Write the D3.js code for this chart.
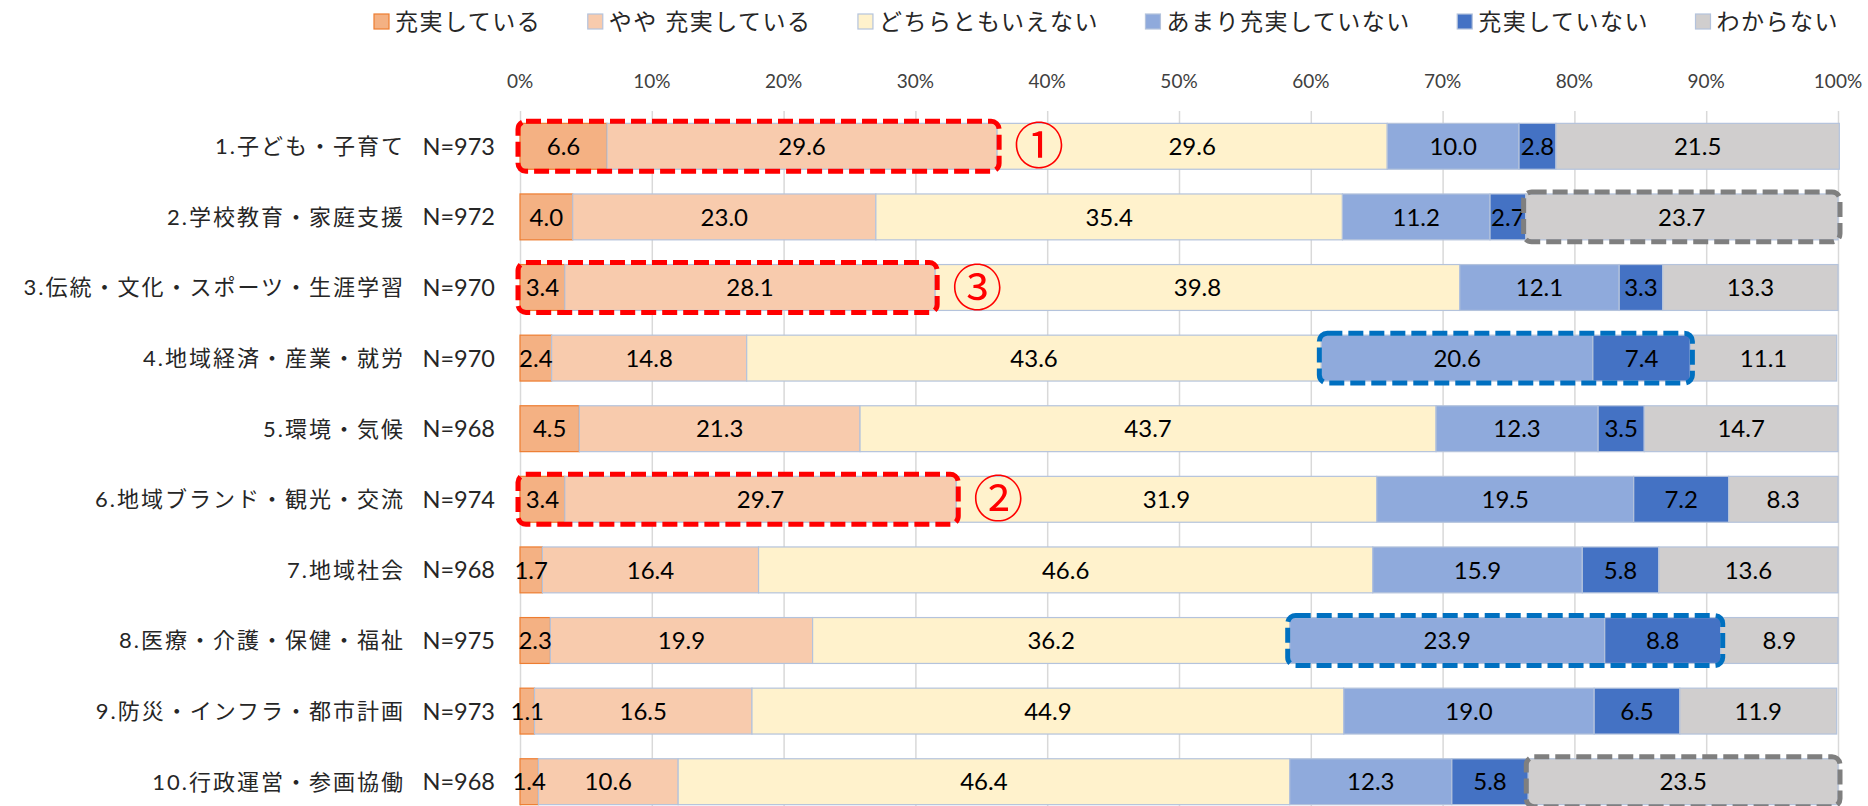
<!DOCTYPE html>
<meta charset="utf-8">
<style>
body { margin: 0; background: #fff; }
svg text { font-family: Lato, "Noto Sans CJK JP", sans-serif; }
.grid line { stroke: #d9d9d9; stroke-width: 1.5px; }
.grid path { display: none; }
.seg { stroke: #b4c3dc; stroke-width: 1.2px; }
</style>
<svg width="1868" height="806"></svg>
<script src="https://d3js.org/d3.v7.min.js"></script>
<script>
// 項目
var categories = ["1.子ども・子育て", "2.学校教育・家庭支援", "3.伝統・文化・スポーツ・生涯学習",
    "4.地域経済・産業・就労", "5.環境・気候", "6.地域ブランド・観光・交流", "7.地域社会",
    "8.医療・介護・保健・福祉", "9.防災・インフラ・都市計画", "10.行政運営・参画協働"];
var nLabels = ["N=973", "N=972", "N=970", "N=970", "N=968", "N=974", "N=968", "N=975", "N=973", "N=968"];

var seriesNames = ["充実している", "やや 充実している", "どちらともいえない", "あまり充実していない", "充実していない", "わからない"];
var seriesColors = ["#f4b183", "#f8cbad", "#fff2cc", "#8faadc", "#4472c4", "#d0cece"];

var s1 = [6.6, 4.0, 3.4, 2.4, 4.5, 3.4, 1.7, 2.3, 1.1, 1.4];
var s2 = [29.6, 23.0, 28.1, 14.8, 21.3, 29.7, 16.4, 19.9, 16.5, 10.6];
var s3 = [29.6, 35.4, 39.8, 43.6, 43.7, 31.9, 46.6, 36.2, 44.9, 46.4];
var s4 = [10.0, 11.2, 12.1, 20.6, 12.3, 19.5, 15.9, 23.9, 19.0, 12.3];
var s5 = [2.8, 2.7, 3.3, 7.4, 3.5, 7.2, 5.8, 8.8, 6.5, 5.8];
var s6 = [21.5, 23.7, 13.3, 11.1, 14.7, 8.3, 13.6, 8.9, 11.9, 23.5];
var series = [s1, s2, s3, s4, s5, s6];

var tickValues = [0, 10, 20, 30, 40, 50, 60, 70, 80, 90, 100];

// 強調枠 (row, 最初の系列, 最後の系列)
var marks = [
    {row: 0, from: 0, to: 1, color: "#ff0000", label: "①"},
    {row: 5, from: 0, to: 1, color: "#ff0000", label: "②"},
    {row: 2, from: 0, to: 1, color: "#ff0000", label: "③"},
    {row: 3, from: 3, to: 4, color: "#0070c0", label: ""},
    {row: 7, from: 3, to: 4, color: "#0070c0", label: ""},
    {row: 1, from: 5, to: 5, color: "#7f7f7f", label: ""},
    {row: 9, from: 5, to: 5, color: "#7f7f7f", label: ""}
];

var svg = d3.select("svg");

var x = d3.scaleLinear().domain([0, 100]).range([520, 1838]);
var y = d3.scaleBand().domain(d3.range(categories.length))
    .range([111, 817]).paddingInner(0.35).paddingOuter(0.175);

// 積み上げ
var rows = categories.map(function(c, i) {
    var acc = 0;
    return series.map(function(s, k) {
        var seg = {row: i, k: k, v: s[i], x0: acc, x1: acc + s[i]};
        acc += s[i];
        return seg;
    });
});

// グリッド
svg.append("g")
    .attr("class", "grid")
    .attr("transform", "translate(0,111)")
    .call(d3.axisBottom(x).tickValues(tickValues).tickSize(720).tickFormat(""));

// 軸ラベル
svg.append("g").selectAll("text")
    .data(tickValues)
    .enter().append("text")
    .attr("x", function(d) { return x(d); })
    .attr("y", 88)
    .attr("text-anchor", "middle")
    .style("font-size", "19px")
    .style("fill", "#404040")
    .text(function(d) { return d + "%"; });

// 棒
var rowG = svg.append("g").selectAll("g")
    .data(rows)
    .enter().append("g");

rowG.selectAll("rect")
    .data(function(d) { return d; })
    .enter().append("rect")
    .attr("class", "seg")
    .attr("x", function(d) { return x(d.x0); })
    .attr("y", function(d) { return y(d.row); })
    .attr("width", function(d) { return x(d.x1) - x(d.x0); })
    .attr("height", y.bandwidth())
    .style("fill", function(d) { return seriesColors[d.k]; })
    .style("stroke", function(d) { return d.k == 0 ? "#ed7d31" : null; });

rowG.selectAll("text")
    .data(function(d) { return d; })
    .enter().append("text")
    .attr("x", function(d) { return (x(d.x0) + x(d.x1)) / 2; })
    .attr("y", function(d) { return y(d.row) + y.bandwidth() / 2; })
    .attr("dy", "0.36em")
    .attr("text-anchor", "middle")
    .style("font-size", "24px")
    .style("fill", "#000")
    .text(function(d) { return d.v.toFixed(1); });

// 項目ラベル
svg.append("g").selectAll("text")
    .data(categories)
    .enter().append("text")
    .attr("x", 405)
    .attr("y", function(d, i) { return y(i) + y.bandwidth() / 2; })
    .attr("dy", "0.36em")
    .attr("text-anchor", "end")
    .style("font-size", "22px")
    .style("letter-spacing", "2px")
    .style("fill", "#262626")
    .text(function(d) { return d; });

svg.append("g").selectAll("text")
    .data(nLabels)
    .enter().append("text")
    .attr("x", 495)
    .attr("y", function(d, i) { return y(i) + y.bandwidth() / 2; })
    .attr("dy", "0.36em")
    .attr("text-anchor", "end")
    .style("font-size", "23.5px")
    .style("fill", "#262626")
    .text(function(d) { return d; });

// 強調枠
var pad = 2;
var markG = svg.append("g").selectAll("g")
    .data(marks)
    .enter().append("g");

markG.append("rect")
    .attr("x", function(d) { return x(rows[d.row][d.from].x0) - pad; })
    .attr("y", function(d) { return y(d.row) - pad; })
    .attr("width", function(d) { return x(rows[d.row][d.to].x1) - x(rows[d.row][d.from].x0) + pad * 2; })
    .attr("height", y.bandwidth() + pad * 2)
    .attr("rx", 8)
    .style("fill", "none")
    .style("stroke", function(d) { return d.color; })
    .style("stroke-width", 5)
    .style("stroke-dasharray", "15,6");

markG.append("text")
    .attr("x", function(d) { return x(rows[d.row][d.to].x1) + 42; })
    .attr("y", function(d) { return y(d.row) + y.bandwidth() / 2; })
    .attr("dy", "0.36em")
    .attr("text-anchor", "middle")
    .style("font-family", "'Noto Sans CJK JP'")
    .style("font-size", "50px")
    .style("fill", function(d) { return d.color; })
    .text(function(d) { return d.label; });

// 凡例
var legend = svg.append("g");
var items = seriesNames.map(function(name, k) {
    var it = legend.append("g");
    it.append("rect")
        .attr("x", 0).attr("y", 14)
        .attr("width", 15).attr("height", 15)
        .style("fill", seriesColors[k])
        .style("stroke", k == 0 ? "#ed7d31" : "#b4c3dc")
        .style("stroke-width", 1.2);
    var t = it.append("text")
        .attr("x", 21).attr("y", 22)
        .attr("dy", "0.36em")
        .style("font-size", "23px")
        .style("letter-spacing", "1.5px")
        .style("fill", "#262626")
        .text(name);
    return {g: it, w: 21 + t.node().getComputedTextLength()};
});
var legStart = 374, legEnd = 1839;
var gap = (legEnd - legStart - d3.sum(items, function(d) { return d.w; })) / (items.length - 1);
var lx = legStart;
items.forEach(function(d) {
    d.g.attr("transform", "translate(" + lx + ",0)");
    lx += d.w + gap;
});
</script>
